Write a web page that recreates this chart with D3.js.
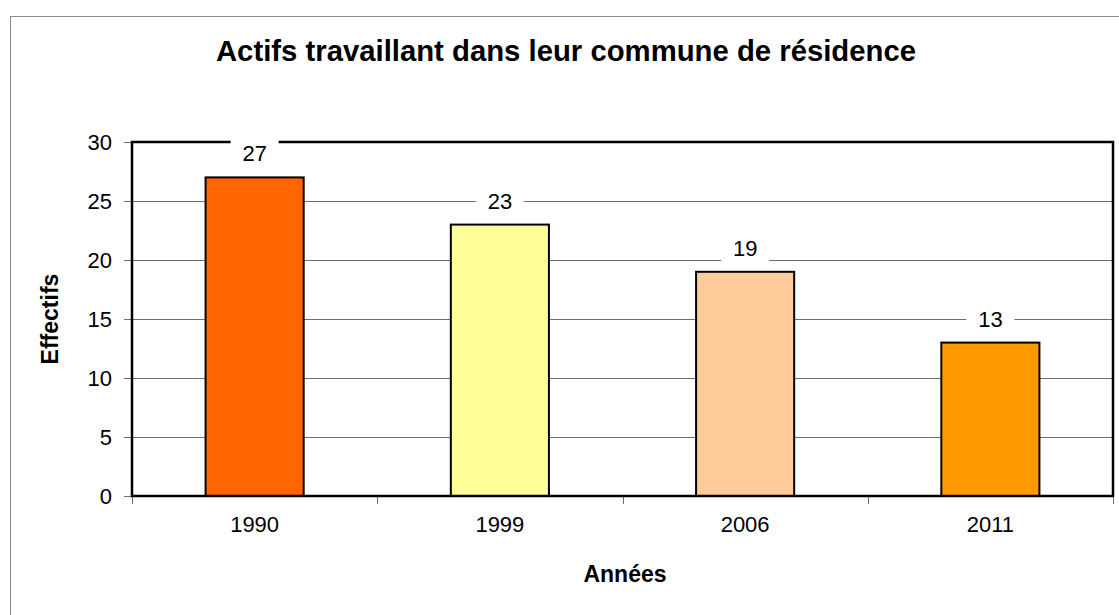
<!DOCTYPE html>
<html>
<head>
<meta charset="utf-8">
<script src="https://cdn.jsdelivr.net/npm/d3@7"></script>
<style>
  body { margin: 0; background: #fff; }
  svg { display: block; font-family: Arial, "Liberation Sans", sans-serif; }
</style>
</head>
<body>
<svg id="chart"></svg>
<script>
// chart data
const years = ["1990", "1999", "2006", "2011"];
const effectifs = [27, 23, 19, 13];
const barColors = ["#FF6600", "#FFFF99", "#FFCC99", "#FF9900"];
const yTicks = [0, 5, 10, 15, 20, 25, 30];

const width = 1119, height = 615;
const plot = { left: 132, top: 142, right: 1113, bottom: 496 };

const svg = d3.select("#chart").attr("width", width).attr("height", height);

// outer frame (runs past the right/bottom edge)
svg.append("rect")
  .attr("x", 10.5).attr("y", 16.5)
  .attr("width", width + 20).attr("height", height + 20)
  .attr("fill", "#fff").attr("stroke", "#8a8a8a").attr("stroke-width", 1);

const x = d3.scaleBand()
  .domain(years)
  .range([plot.left, plot.right])
  .paddingInner(0.6)
  .paddingOuter(0.3);

const y = d3.scaleLinear()
  .domain([0, 30])
  .range([plot.bottom, plot.top]);

// gridlines
svg.append("g")
  .selectAll("line")
  .data(yTicks.filter(d => d > 0 && d < 30))
  .join("line")
  .attr("x1", plot.left).attr("x2", plot.right)
  .attr("y1", d => Math.round(y(d)) + 0.5).attr("y2", d => Math.round(y(d)) + 0.5)
  .attr("stroke", "#6e6e6e").attr("stroke-width", 1);

// y axis
const yAxis = svg.append("g")
  .attr("transform", `translate(${plot.left},0)`)
  .call(d3.axisLeft(y).tickValues(yTicks).tickSize(8).tickPadding(12));
yAxis.select(".domain").remove();
yAxis.selectAll(".tick line").attr("stroke", "#6e6e6e");
yAxis.selectAll(".tick text")
  .attr("font-size", 22).attr("font-family", "Arial, 'Liberation Sans', sans-serif")
  .attr("fill", "#000");

// x axis: ticks at category boundaries
const boundaries = d3.range(years.length + 1).map(i => plot.left + i * (plot.right - plot.left) / years.length);
svg.append("g")
  .selectAll("line")
  .data(boundaries)
  .join("line")
  .attr("x1", d => Math.round(d) + 0.5).attr("x2", d => Math.round(d) + 0.5)
  .attr("y1", plot.bottom).attr("y2", plot.bottom + 8)
  .attr("stroke", "#6e6e6e");

svg.append("g")
  .selectAll("text")
  .data(years)
  .join("text")
  .attr("x", d => x(d) + x.bandwidth() / 2)
  .attr("y", 532)
  .attr("text-anchor", "middle")
  .attr("font-size", 22)
  .text(d => d);

// bars
svg.append("g")
  .selectAll("rect")
  .data(years)
  .join("rect")
  .attr("x", d => x(d))
  .attr("y", (d, i) => y(effectifs[i]))
  .attr("width", x.bandwidth())
  .attr("height", (d, i) => y(0) - y(effectifs[i]))
  .attr("fill", (d, i) => barColors[i])
  .attr("stroke", "#000").attr("stroke-width", 2);

// plot border
svg.append("rect")
  .attr("x", plot.left).attr("y", plot.top)
  .attr("width", plot.right - plot.left).attr("height", plot.bottom - plot.top)
  .attr("fill", "none").attr("stroke", "#000").attr("stroke-width", 2.5);

// value labels with white background
const labels = svg.append("g")
  .selectAll("g")
  .data(years)
  .join("g")
  .attr("transform", (d, i) => `translate(${x(d) + x.bandwidth() / 2},${y(effectifs[i]) - 16})`);

labels.append("rect")
  .attr("x", -24).attr("y", -22)
  .attr("width", 48).attr("height", 28)
  .attr("fill", "#fff");

labels.append("text")
  .attr("text-anchor", "middle")
  .attr("font-size", 22)
  .text((d, i) => effectifs[i]);

// title
svg.append("text")
  .attr("x", 566).attr("y", 61)
  .attr("text-anchor", "middle")
  .attr("font-size", 29.3).attr("font-weight", "bold")
  .text("Actifs travaillant dans leur commune de résidence");

// axis titles
svg.append("text")
  .attr("transform", `translate(58,${(plot.top + plot.bottom) / 2}) rotate(-90)`)
  .attr("text-anchor", "middle")
  .attr("font-size", 23).attr("font-weight", "bold")
  .text("Effectifs");

svg.append("text")
  .attr("x", 625).attr("y", 582)
  .attr("text-anchor", "middle")
  .attr("font-size", 23).attr("font-weight", "bold")
  .text("Années");
</script>
</body>
</html>
